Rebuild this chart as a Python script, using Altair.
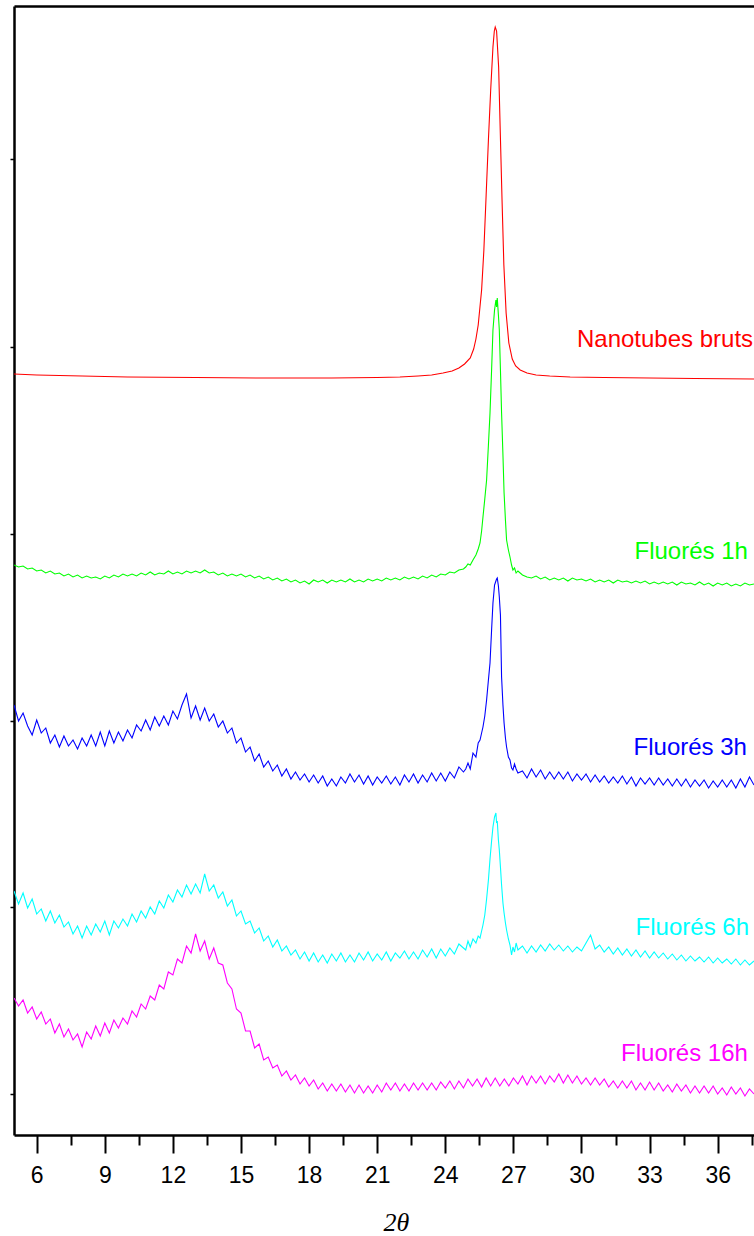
import altair as alt
import pandas as pd

# ---------------- data ----------------
SERIES = ["Nanotubes bruts", "Fluorés 1h", "Fluorés 3h", "Fluorés 6h", "Fluorés 16h"]
COLORS = ["#ff0000", "#00ff00", "#0000ff", "#00ffff", "#ff00ff"]

# scan positions (2theta) of the noisy patterns
GRID = [
    5.0, 5.2, 5.4, 5.6, 5.8, 6.0, 6.2, 6.4, 6.6, 6.8,
    7.0, 7.2, 7.4, 7.6, 7.8, 8.0, 8.2, 8.4, 8.6, 8.8,
    9.0, 9.2, 9.4, 9.6, 9.8, 10.0, 10.2, 10.4, 10.6, 10.8,
    11.0, 11.2, 11.4, 11.6, 11.8, 12.0, 12.2, 12.4, 12.6, 12.8,
    13.0, 13.2, 13.4, 13.6, 13.8, 14.0, 14.2, 14.4, 14.6, 14.8,
    15.0, 15.2, 15.4, 15.6, 15.8, 16.0, 16.2, 16.4, 16.6, 16.8,
    17.0, 17.2, 17.4, 17.6, 17.8, 18.0, 18.2, 18.4, 18.6, 18.8,
    19.0, 19.2, 19.4, 19.6, 19.8, 20.0, 20.2, 20.4, 20.6, 20.8,
    21.0, 21.2, 21.4, 21.6, 21.8, 22.0, 22.2, 22.4, 22.6, 22.8,
    23.0, 23.2, 23.4, 23.6, 23.8, 24.0, 24.2, 24.4, 24.6, 24.8,
    25.0, 25.2, 25.4, 25.6, 25.8, 26.0, 26.2, 26.4, 26.6, 26.8,
    27.0, 27.2, 27.4, 27.6, 27.8, 28.0, 28.2, 28.4, 28.6, 28.8,
    29.0, 29.2, 29.4, 29.6, 29.8, 30.0, 30.2, 30.4, 30.6, 30.8,
    31.0, 31.2, 31.4, 31.6, 31.8, 32.0, 32.2, 32.4, 32.6, 32.8,
    33.0, 33.2, 33.4, 33.6, 33.8, 34.0, 34.2, 34.4, 34.6, 34.8,
    35.0, 35.2, 35.4, 35.6, 35.8, 36.0, 36.2, 36.4, 36.6, 36.8,
    37.0, 37.2, 37.4, 37.6,
]

# dense points across the (002) peak
PEAK_X = [24.9, 25.0, 25.1, 25.22, 25.35, 25.45, 25.53, 25.6, 25.66, 25.74,
          25.82, 25.9, 25.97, 26.04, 26.10, 26.17, 26.23, 26.26, 26.29, 26.34,
          26.38, 26.43, 26.48, 26.54, 26.59, 26.65, 26.70, 26.78, 26.85, 26.92,
          26.98, 27.05, 27.12, 27.2]

N = None

# Nanotubes bruts (smooth)
RED_X = [5.0, 6.0, 8.0, 10.0, 13.0, 16.0, 19.0, 21.0, 22.0, 22.8,
         23.4, 23.9, 24.3, 24.6, 24.85, 25.1, 25.25, 25.35, 25.45, 25.6,
         25.7, 25.8, 25.9, 26.0, 26.1, 26.16, 26.2, 26.26, 26.35, 26.42,
         26.5, 26.58, 26.68, 26.8, 26.95, 27.1, 27.3, 27.6, 28.0, 28.6,
         29.5, 31.0, 33.0, 35.0, 37.6]
RED_Y = [761, 760, 759, 758, 757.5, 757, 757, 757.5, 758, 759,
         760, 762, 764, 767, 771, 777, 786, 796, 810, 845,
         885, 940, 995, 1045, 1088, 1104, 1108, 1104, 1068, 1005,
         935, 870, 822, 792, 776, 769, 765, 762, 760, 759,
         758, 757.5, 757, 756.5, 756]

# Fluorés 1h
GREEN_VALS = [
    570, 568, 569, 566, 567, 564, 565, 562, 564, 561,
    562, 559, 561, 558, 560, 557, 559, 557, 558, 556,
    559, 557, 560, 558, 561, 559, 561, 559, 562, 560,
    563, 560, 562, 561, 564, 561, 563, 561, 564, 562,
    564, 562, 565, 562, 563, 560, 562, 559, 561, 559,
    561, 558, 560, 557, 559, 556, 558, 555, 557, 554,
    556, 553, 555, 552, 554, 551, 555, 553, 555, 552,
    555, 553, 555, 553, 556, 553, 555, 553, 556, 554,
    556, 554, 557, 555, 557, 555, 558, 556, 558, 556,
    559, 557, 560, 558, 561, 560, 563, 562, 565, 566,
    N, N, N, N, N, N, N, N, N, N, N, N,
    560, 558, 557, 559, 556, 558, 555, 557, 555, 557,
    554, 557, 555, 556, 554, 556, 553, 555, 553, 555,
    552, 555, 553, 554, 552, 554, 552, 554, 551, 553,
    551, 553, 551, 553, 550, 553, 551, 552, 550, 553,
    550, 552, 549, 552, 550, 552, 549, 551, 549, 552,
    550, 551,
]
GREEN_PEAK = [568, 571, 570, 575, 580, 586, 592, 604, 618, 636,
              655, 690, 722, 765, 805, 825, 835, 828, 837, 820,
              805, 765, 722, 680, 642, 615, 595, 585, 578, 570,
              565, 567, 562, 564]

# Fluorés 3h
BLUE_VALS = [
    430, 414, 422, 409, 400, 415, 402, 407, 392, 400,
    388, 399, 389, 395, 386, 397, 389, 400, 389, 403,
    389, 404, 392, 403, 394, 405, 397, 410, 404, 415,
    405, 418, 409, 419, 410, 424, 416, 430, 441, 417,
    429, 415, 427, 414, 421, 408, 414, 402, 407, 392,
    397, 383, 388, 374, 381, 368, 374, 364, 370, 359,
    366, 356, 363, 355, 361, 353, 360, 352, 359, 349,
    356, 349, 358, 352, 361, 353, 360, 351, 359, 350,
    358, 352, 359, 351, 358, 350, 360, 353, 361, 352,
    360, 353, 362, 354, 362, 354, 363, 357, 368, 363,
    N, N, N, N, N, N, N, N, N, N, N, N,
    364, 357, 366, 358, 365, 356, 363, 356, 363, 356,
    363, 354, 361, 355, 361, 353, 360, 353, 359, 352,
    358, 352, 359, 351, 358, 349, 357, 351, 357, 350,
    357, 350, 356, 349, 356, 349, 356, 348, 355, 349,
    355, 347, 354, 348, 355, 348, 355, 347, 356, 348,
    358, 350,
]
BLUE_PEAK = [366, 372, 366, 382, 378, 392, 395, 402, 408, 419,
             435, 455, 472, 505, 532, 550, 554, 556, 557, 549,
             538, 520, 458, 430, 412, 397, 388, 378, 375, 367,
             365, 371, 366, 362]

# Fluorés 6h
CYAN_VALS = [
    244, 231, 242, 227, 236, 221, 226, 214, 224, 212,
    220, 208, 213, 201, 209, 197, 209, 200, 211, 203,
    214, 200, 214, 207, 216, 209, 221, 213, 224, 217,
    228, 221, 234, 227, 240, 233, 245, 238, 250, 241,
    251, 242, 261, 244, 250, 237, 243, 229, 235, 219,
    224, 211, 214, 202, 207, 194, 199, 188, 195, 184,
    189, 180, 185, 176, 183, 174, 182, 173, 180, 172,
    181, 174, 182, 173, 180, 173, 182, 175, 183, 174,
    181, 175, 183, 174, 182, 177, 184, 176, 183, 176,
    185, 178, 186, 177, 186, 179, 187, 181, 191, 187,
    N, N, N, N, N, N, N, N, N, N, N, N,
    189, 182, 189, 183, 190, 184, 191, 185, 190, 184,
    189, 183, 188, 184, 192, 200, 186, 190, 183, 188,
    181, 187, 180, 186, 179, 185, 178, 184, 177, 183,
    177, 182, 176, 181, 175, 180, 174, 179, 174, 178,
    173, 178, 172, 177, 172, 176, 171, 176, 170, 175,
    170, 174,
]
CYAN_PEAK = [185, 194, 188, 196, 192, 199, 197, 204, 210, 220,
             236, 255, 276, 294, 308, 318, 322, 312, 314, 295,
             285, 268, 250, 232, 222, 212, 205, 196, 190, 180,
             188, 183, 192, 185]

# Fluorés 16h
MAGENTA_VALS = [
    137, 129, 135, 122, 128, 116, 123, 111, 116, 102,
    111, 98, 106, 95, 101, 88, 103, 96, 109, 99,
    112, 102, 115, 107, 117, 111, 124, 118, 131, 126,
    139, 135, 150, 146, 163, 160, 176, 172, 189, 182,
    201, 184, 194, 176, 187, 172, 170, 152, 146, 126,
    122, 104, 104, 87, 91, 75, 78, 67, 70, 59,
    64, 55, 60, 51, 57, 49, 55, 46, 52, 44,
    51, 44, 51, 43, 50, 42, 50, 42, 49, 42,
    50, 43, 52, 45, 52, 44, 51, 44, 52, 45,
    52, 45, 52, 45, 53, 47, 54, 46, 54, 47,
    56, 49, 56, 48, 57, 49, 57, 49, 56, 49,
    57, 51, 59, 50, 59, 52, 59, 51, 59, 53,
    61, 52, 60, 52, 59, 51, 57, 50, 57, 50,
    56, 48, 54, 47, 54, 47, 54, 45, 52, 45,
    53, 45, 52, 44, 50, 43, 51, 44, 50, 42,
    49, 42, 49, 42, 49, 41, 47, 40, 48, 41,
    47, 39, 46, 41,
]

# curve labels
LABEL_X = [37.56, 37.33, 37.29, 37.38, 37.33]
LABEL_Y = [788, 576, 380, 200, 74]

# axis ticks
X_TICKS = [6, 7.5, 9, 10.5, 12, 13.5, 15, 16.5, 18, 19.5, 21, 22.5, 24,
           25.5, 27, 28.5, 30, 31.5, 33, 34.5, 36, 37.5]
Y_TICKS = [41, 228, 414, 601, 788, 976]

# ---------------- table ----------------
for v in (GREEN_VALS, BLUE_VALS, CYAN_VALS, MAGENTA_VALS):
    assert len(v) == len(GRID), len(v)

rows = []
for x, y in zip(RED_X, RED_Y):
    rows.append((SERIES[0], x, y))
for name, vals, peak in [(SERIES[1], GREEN_VALS, GREEN_PEAK),
                         (SERIES[2], BLUE_VALS, BLUE_PEAK),
                         (SERIES[3], CYAN_VALS, CYAN_PEAK),
                         (SERIES[4], MAGENTA_VALS, None)]:
    for x, y in zip(GRID, vals):
        if y is not None:
            rows.append((name, x, y))
    if peak is not None:
        for x, y in zip(PEAK_X, peak):
            rows.append((name, x, y))
df = pd.DataFrame(rows, columns=["series", "theta", "intensity"])
labels_df = pd.DataFrame({"series": SERIES, "x": LABEL_X, "y": LABEL_Y})

# ---------------- chart ----------------
x_scale = alt.Scale(domain=[5, 37.6], nice=False, zero=False)
y_scale = alt.Scale(domain=[0, 1129], nice=False, zero=False)
color_scale = alt.Scale(domain=SERIES, range=COLORS)

y_axis = alt.Axis(
    orient="left", values=Y_TICKS, labels=False, grid=False, title=None,
    tickSize=4, tickWidth=1.5, tickColor="black",
    domainWidth=2.5, domainColor="black",
)

lines = alt.Chart(df).mark_line(strokeWidth=1.1, clip=True).encode(
    x=alt.X("theta:Q", scale=x_scale, axis=alt.Axis(
        orient="bottom", values=X_TICKS, grid=False,
        tickSize={"condition": {"test": "datum.value % 3 === 0", "value": 18}, "value": 10},
        tickWidth=2, tickColor="black", domainWidth=2.5, domainColor="black",
        labelExpr="datum.value % 3 === 0 ? format(datum.value, 'd') : ''",
        labelFont="Liberation Sans", labelFontSize=23, labelColor="black",
        labelPadding=11, labelFlush=False, labelOverlap=False,
        title="2θ", titleFont="Liberation Serif", titleFontStyle="italic",
        titleFontSize=26, titleFontWeight="normal", titleColor="black",
        titleX=382, titleY=95, titleAlign="center", titleBaseline="alphabetic",
    )),
    y=alt.Y("intensity:Q", scale=y_scale, axis=y_axis),
    color=alt.Color("series:N", scale=color_scale, legend=None),
    detail="series:N",
)

texts = alt.Chart(labels_df).mark_text(
    align="right", baseline="alphabetic", font="Liberation Sans", fontSize=24
).encode(
    x=alt.X("x:Q", scale=x_scale, axis=alt.Axis(
        orient="top", labels=False, ticks=False, grid=False, title=None,
        domainWidth=2.5, domainColor="black")),
    y=alt.Y("y:Q", scale=y_scale, axis=y_axis),
    color=alt.Color("series:N", scale=color_scale, legend=None),
    text="series:N",
)

chart = alt.layer(lines, texts).resolve_axis(x="independent").properties(
    width=740, height=1129,
    autosize=alt.AutoSizeParams(type="none"),
    padding={"left": 14, "top": 6, "right": 0, "bottom": 100},
    background="white",
).configure_view(strokeWidth=0)

chart.save("out.html", embed_options={"renderer": "svg", "actions": False})
